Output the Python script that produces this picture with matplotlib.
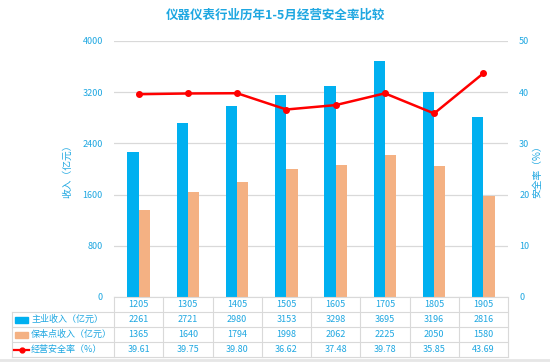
import matplotlib.pyplot as plt
from matplotlib.lines import Line2D
from matplotlib.patches import Rectangle
import numpy as np

plt.rcParams['font.family'] = ['Noto Sans CJK SC', 'DejaVu Sans']

years = ['1205', '1305', '1405', '1505', '1605', '1705', '1805', '1905']
main_income = [2261, 2721, 2980, 3153, 3298, 3695, 3196, 2816]
breakeven = [1365, 1640, 1794, 1998, 2062, 2225, 2050, 1580]
safety = [39.61, 39.75, 39.80, 36.62, 37.48, 39.78, 35.85, 43.69]
safety_txt = ['39.61', '39.75', '39.80', '36.62', '37.48', '39.78', '35.85', '43.69']

txt_c = '#1ea7e1'
blue = '#00b0f0'
orange = '#f4b183'
red = '#ff0000'
grid_c = '#d9d9d9'

W, H = 550, 362
fig = plt.figure(figsize=(5.5, 3.62), dpi=100)
ax = fig.add_axes([114 / W, 1 - 297 / H, 394 / W, 256 / H])
ax2 = ax.twinx()

x = np.arange(len(years))
bw = 0.23
ax.bar(x - bw / 2, main_income, bw, color=blue, zorder=3)
ax.bar(x + bw / 2, breakeven, bw, color=orange, zorder=3)
ax2.plot(x, safety, color=red, lw=1.8, marker='o', ms=4, zorder=4)

ax.set_xlim(-0.5, len(years) - 0.5)
ax.set_ylim(0, 4000)
ax.set_yticks(range(0, 4001, 800))
ax2.set_ylim(0, 50)
ax2.set_yticks(range(0, 51, 10))
ax.yaxis.grid(True, color=grid_c, lw=0.9, zorder=0)
ax.set_axisbelow(True)
ax.set_xticks([])
for a in (ax, ax2):
    for s in a.spines.values():
        s.set_visible(False)
    a.tick_params(axis='y', length=0, labelsize=6.5, labelcolor=txt_c, pad=8)
ax.set_ylabel('收入（亿元）', color=txt_c, fontsize=7, labelpad=7)
ax2.set_ylabel('安全率（%）', color=txt_c, fontsize=7, labelpad=2)

fig.text(0.5, 1 - 15 / H, '仪器仪表行业历年1-5月经营安全率比较', ha='center', va='center',
         color=txt_c, fontsize=9, fontweight='bold')

# data table under the chart
def fy(py):
    return 1 - py / H

def fx(px):
    return px / W

rows_y = [297, 312, 327, 342, 357]
col_w = 394 / len(years)
ft = fig.transFigure
for i, py in enumerate(rows_y):
    x0 = 114 if i == 0 else 12
    fig.add_artist(Line2D([fx(x0), fx(508)], [fy(py), fy(py)], color=grid_c, lw=0.8, transform=ft))
for k in range(len(years) + 1):
    px = 114 + k * col_w
    fig.add_artist(Line2D([fx(px), fx(px)], [fy(297), fy(357)], color=grid_c, lw=0.8, transform=ft))
fig.add_artist(Line2D([fx(12), fx(12)], [fy(312), fy(357)], color=grid_c, lw=0.8, transform=ft))

row_vals = [years, [str(v) for v in main_income], [str(v) for v in breakeven], safety_txt]
for r, vals in enumerate(row_vals):
    cy = fy((rows_y[r] + rows_y[r + 1]) / 2)
    for k, v in enumerate(vals):
        fig.text(fx(114 + (k + 0.5) * col_w), cy, v, ha='center', va='center',
                 color=txt_c, fontsize=6.5)

labels = ['主业收入（亿元）', '保本点收入（亿元）', '经营安全率（%）']
for r, lab in enumerate(labels):
    cy = fy((rows_y[r + 1] + rows_y[r + 2]) / 2)
    if r < 2:
        c = blue if r == 0 else orange
        fig.add_artist(Rectangle((fx(15), cy - 3 / H), 13 / W, 6 / H, color=c, transform=ft))
    else:
        fig.add_artist(Line2D([fx(14), fx(29)], [cy, cy], color=red, lw=1.6, transform=ft))
        fig.add_artist(Line2D([fx(21.5)], [cy], color=red, marker='o', ms=3.5, transform=ft))
    fig.text(fx(31), cy, lab, ha='left', va='center', color=txt_c, fontsize=6.5)

fig.add_artist(Line2D([0, 1], [fy(360), fy(360)], color='#e6e6e6', lw=2, transform=ft))

fig.savefig('out.png', dpi=100)
